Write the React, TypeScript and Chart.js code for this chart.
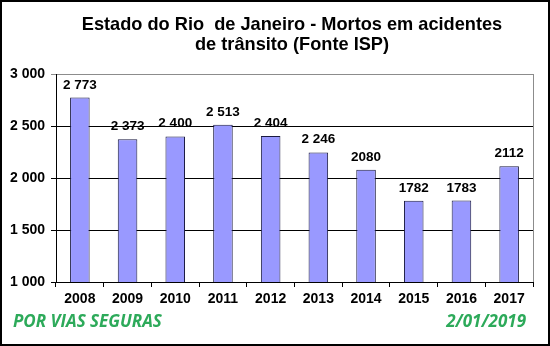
import React, { useEffect, useRef } from "react";
import { Chart, registerables } from "chart.js";

Chart.register(...registerables);

const years = ["2008", "2009", "2010", "2011", "2012", "2013", "2014", "2015", "2016", "2017"];
const deaths = [2773, 2373, 2400, 2513, 2404, 2246, 2080, 1782, 1783, 2112];
const valueLabels = ["2 773", "2 373", "2 400", "2 513", "2 404", "2 246", "2080", "1782", "1783", "2112"];
const titleLines = ["Estado do Rio  de Janeiro - Mortos em acidentes", "de trânsito (Fonte ISP)"];
const footerLeft = "POR VIAS SEGURAS";
const footerRight = "2/01/2019";

const FONT = "'Liberation Sans', Arial, sans-serif";

const decorPlugin = {
  id: "decor",
  afterDatasetsDraw(chart: any) {
    const ctx = chart.ctx;
    const meta = chart.getDatasetMeta(0);
    ctx.save();
    ctx.fillStyle = "#000";
    ctx.font = `bold 13.5px ${FONT}`;
    ctx.textAlign = "center";
    ctx.textBaseline = "alphabetic";
    meta.data.forEach((bar: any, i: number) => {
      ctx.fillText(valueLabels[i], bar.x, bar.y - 9);
    });
    // right border of plot area
    const a = chart.chartArea;
    ctx.strokeStyle = "#8c8c8c";
    ctx.lineWidth = 1;
    ctx.beginPath();
    ctx.moveTo(Math.round(a.right) + 0.5, a.top);
    ctx.lineTo(Math.round(a.right) + 0.5, a.bottom);
    ctx.stroke();
    ctx.restore();
  },
  afterDraw(chart: any) {
    const ctx = chart.ctx;
    ctx.save();
    // title
    ctx.fillStyle = "#000";
    ctx.font = `bold 18.2px ${FONT}`;
    ctx.textAlign = "center";
    ctx.textBaseline = "alphabetic";
    ctx.fillText(titleLines[0], 292, 30);
    ctx.fillText(titleLines[1], 292, 50);
    // footer
    ctx.fillStyle = "#2daa5a";
    ctx.font = `italic bold 17px 'Open Sans', ${FONT}`;
    ctx.textAlign = "left";
    ctx.fillText(footerLeft, 13, 327);
    ctx.textAlign = "right";
    ctx.fillText(footerRight, 526, 327);
    // outer frame
    ctx.strokeStyle = "#000";
    ctx.lineWidth = 2;
    ctx.strokeRect(1, 1, chart.width - 2, chart.height - 2);
    ctx.restore();
  },
};

export default function App() {
  const ref = useRef<HTMLCanvasElement | null>(null);
  useEffect(() => {
    if (!ref.current) return;
    const chart = new Chart(ref.current, {
      type: "bar",
      data: {
        labels: years,
        datasets: [
          {
            data: deaths,
            backgroundColor: "#9999ff",
            borderColor: "#1a1a40",
            borderWidth: 1,
            barPercentage: 0.41,
            categoryPercentage: 1,
          },
        ],
      },
      plugins: [decorPlugin],
      options: {
        responsive: false,
        animation: false,
        events: [],
        layout: { padding: { top: 74, right: 17, left: 0, bottom: 24 } },
        plugins: { legend: { display: false }, tooltip: { enabled: false }, title: { display: false } },
        scales: {
          x: {
            offset: true,
            afterFit: (s: any) => { s.height = 40; },
            grid: { offset: true, drawOnChartArea: false, color: "#000", tickLength: 5 },
            border: { color: "#000", width: 1 },
            ticks: { color: "#000", font: { family: FONT, size: 14, weight: "bold" }, padding: 4, maxRotation: 0 },
          },
          y: {
            min: 1000,
            max: 3000,
            afterFit: (s: any) => { s.width = 56; },
            grid: {
              color: (c: any) => (c.tick && c.tick.value === 3000 ? "#8c8c8c" : "#000"),
              tickLength: 5,
            },
            border: { color: "#000", width: 1 },
            ticks: {
              stepSize: 500,
              color: "#000",
              padding: 6,
              font: { family: FONT, size: 14, weight: "bold" },
              callback: (v: any) => {
                const n = Number(v);
                return n >= 1000 ? `${Math.floor(n / 1000)} ${String(n % 1000).padStart(3, "0")}` : String(n);
              },
            },
          },
        },
      },
    });
    return () => chart.destroy();
  }, []);
  return (
    <div style={{ position: "fixed", left: 0, top: 0, width: 550, height: 346, background: "#fff" }}>
      <canvas ref={ref} width={550} height={346} style={{ width: 550, height: 346 }} />
    </div>
  );
}
